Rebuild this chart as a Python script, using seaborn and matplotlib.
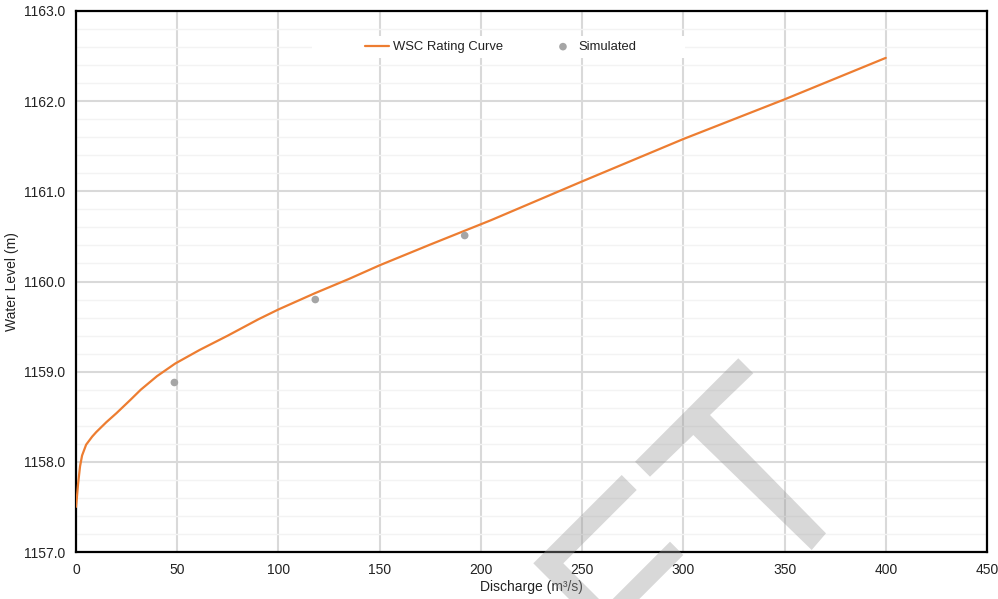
import numpy as np
import pandas as pd
import matplotlib
matplotlib.use("Agg")
import matplotlib.pyplot as plt
import seaborn as sns
from matplotlib.patches import Polygon, Rectangle
from matplotlib.ticker import MultipleLocator, FormatStrFormatter

# ---- data ----
curve_q = [0, 0.5, 1, 2, 3, 5, 8, 10, 15, 20, 27, 32, 40, 49, 61, 75, 90, 100,
           110, 118, 135, 150, 175, 205, 250, 300, 350, 400]
curve_h = [1157.5, 1157.62, 1157.75, 1157.95, 1158.07, 1158.19, 1158.28, 1158.33,
           1158.44, 1158.54, 1158.69, 1158.80, 1158.95, 1159.09, 1159.24, 1159.40,
           1159.58, 1159.69, 1159.79, 1159.87, 1160.03, 1160.18, 1160.41, 1160.68,
           1161.11, 1161.58, 1162.02, 1162.48]
sim_q = [48.6, 118.2, 192.0]
sim_h = [1158.88, 1159.80, 1160.51]

curve_label = "WSC Rating Curve"
sim_label = "Simulated"
x_label = "Discharge (m\u00b3/s)"
y_label = "Water Level (m)"

sns.set_theme(style="white")
plt.rcParams["font.family"] = ["Liberation Sans", "DejaVu Sans"]

W, H = 998, 599
fig = plt.figure(figsize=(W / 100, H / 100), dpi=100)
ax = fig.add_axes([76 / W, 1 - 552 / H, (987 - 76) / W, (552 - 11) / H])

curve_df = pd.DataFrame({"q": curve_q, "h": curve_h})
sim_df = pd.DataFrame({"q": sim_q, "h": sim_h})

sns.lineplot(data=curve_df, x="q", y="h", ax=ax, color="#ED7D31", linewidth=1.6,
             label=curve_label, sort=False, zorder=3)
sns.scatterplot(data=sim_df, x="q", y="h", ax=ax, color="#A5A5A5", s=30,
                edgecolor="none", label=sim_label, zorder=4)

ax.set_xlim(0, 450)
ax.set_ylim(1157, 1163)
ax.xaxis.set_major_locator(MultipleLocator(50))
ax.yaxis.set_major_locator(MultipleLocator(1.0))
ax.yaxis.set_minor_locator(MultipleLocator(0.2))
ax.yaxis.set_major_formatter(FormatStrFormatter("%.1f"))
ax.set_axisbelow(True)
ax.grid(True, which="major", color="#D9D9D9", linewidth=1.5)
ax.grid(True, which="minor", axis="y", color="#F3F3F3", linewidth=1.0)
ax.tick_params(axis="both", which="both", length=0, labelsize=10, colors="#222222")
ax.tick_params(axis="x", pad=8)
ax.tick_params(axis="y", pad=8)
for sp in ax.spines.values():
    sp.set_visible(True)
    sp.set_color("black")
    sp.set_linewidth(1.6)

ax.set_xlabel(x_label, fontsize=10, color="#222222", labelpad=2)
ax.set_ylabel(y_label, fontsize=10, color="#222222")
ax.yaxis.set_label_coords((19 - 76) / (987 - 76), 0.5)

# white legend backdrop
ax.add_patch(Rectangle((312 / W, 1 - 58 / H), (685 - 312) / W, 22 / H,
                       transform=fig.transFigure, facecolor="white",
                       edgecolor="none", zorder=1))
leg = ax.legend(loc="center", bbox_to_anchor=(501 / W, 1 - 47 / H),
                bbox_transform=fig.transFigure, ncol=2, frameon=False,
                fontsize=9.4, handlelength=1.8, handletextpad=0.3,
                columnspacing=3.7, markerscale=1.0)
for t in leg.get_texts():
    t.set_color("#222222")

# watermark shapes (pixel coordinates)
def px(pts):
    return [(x / W, 1 - y / H) for x, y in pts]

wm = dict(transform=fig.transFigure, facecolor=(0.6, 0.6, 0.6), alpha=0.38,
          edgecolor="none", zorder=10)
T_shape = [(635, 461.7), (738.3, 358.3), (753.3, 373.3), (710, 415),
           (826, 533.3), (811.7, 550), (693.3, 435), (650, 476.7)]
L_shape = [(621.7, 475), (636.7, 490), (563.3, 563.3), (620, 620),
           (590, 620), (533.3, 563.3)]
D_shape = [(670, 541.7), (683.3, 555), (639.3, 599), (612.7, 599)]
for shp in (T_shape, L_shape, D_shape):
    fig.patches.append(Polygon(px(shp), closed=True, **wm))

fig.savefig("out.png", dpi=100)
